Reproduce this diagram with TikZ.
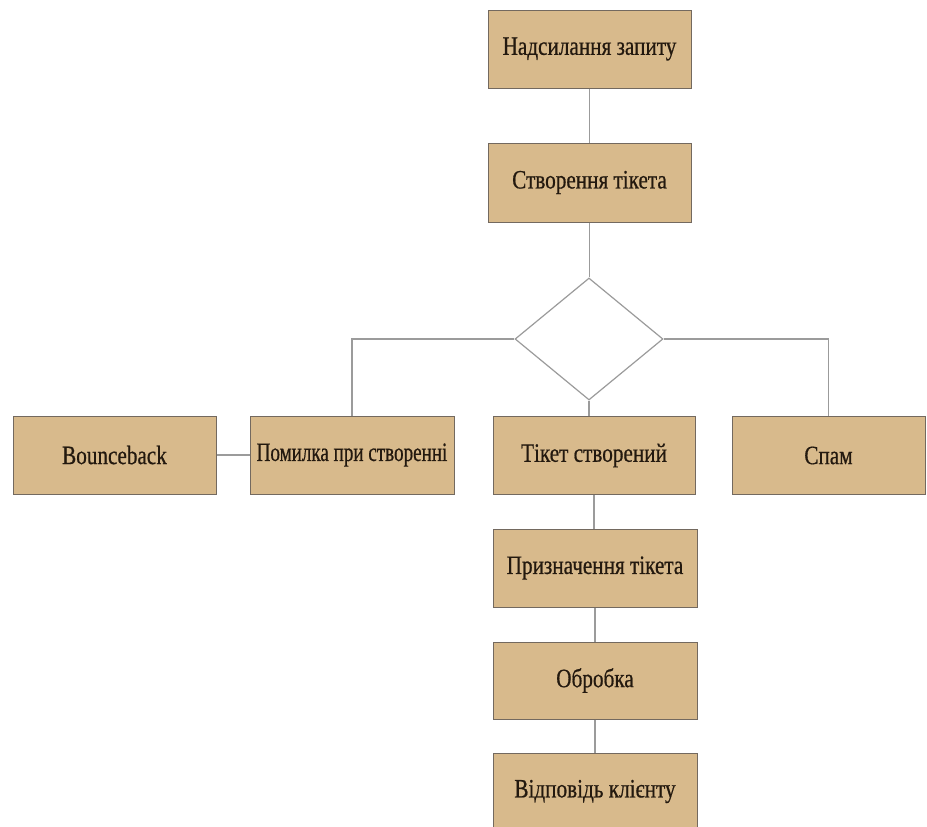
\documentclass[tikz,border=0pt]{standalone}
\usepackage{fontspec}
\setmainfont[FakeStretch=0.8,FakeBold=0.6]{Liberation Serif}
\usetikzlibrary{shapes.geometric}
\definecolor{boxfill}{RGB}{216,186,140}
\definecolor{boxedge}{RGB}{115,105,95}
\definecolor{linecol}{RGB}{155,155,155}
\definecolor{txt}{RGB}{35,25,15}
\begin{document}
\begin{tikzpicture}[x=1pt,y=-1pt,
  box/.style={draw=boxedge, fill=boxfill, line width=1pt, minimum width=203pt,
    minimum height=78pt, inner sep=0pt, text=txt,
    font=\fontsize{26.5}{30}\selectfont, anchor=center},
  conn/.style={draw=linecol, line width=1.2pt},
  decision/.style={diamond, draw=linecol, fill=white, line width=1.2pt,
    minimum width=148pt, minimum height=122pt, inner sep=0pt}]
\useasboundingbox (0,0) rectangle (927,827);
\node[box] (req) at (589.5,49) {Надсилання запиту};
\node[box, minimum height=79pt] (create) at (589.5,182.5) {Створення тікета};
\node[decision] (dec) at (589,339) {};
\node[box] (bounce) at (114.5,455) {Bounceback};
\node[box, minimum width=204pt] (err) at (352,455) {\scalebox{0.9}[1]{Помилка при створенні}};
\node[box, minimum width=202pt] (ok) at (594,455.5) {Тікет створений};
\node[box, minimum width=193pt] (spam) at (828.5,455.5) {Спам};
\node[box, minimum width=204pt] (assign) at (595,568) {Призначення тікета};
\node[box, minimum width=204pt, minimum height=77pt] (proc) at (595,680.5) {Обробка};
\node[box, minimum width=204pt, minimum height=77pt] (reply) at (595,791.5) {Відповідь клієнту};
\draw[conn] (req.south) -- (create.north);
\draw[conn] (create.south) -- (create.south |- dec.north);
\draw[conn] (dec.west) -| (err.north);
\draw[conn] (dec.east) -| (spam.north);
\draw[conn] (dec.south) -- (dec.south |- ok.north);
\draw[conn] (bounce.east) -- (err.west);
\draw[conn] (ok.south) -- (ok.south |- assign.north);
\draw[conn] (assign.south) -- (proc.north);
\draw[conn] (proc.south) -- (reply.north);
\end{tikzpicture}
\end{document}
